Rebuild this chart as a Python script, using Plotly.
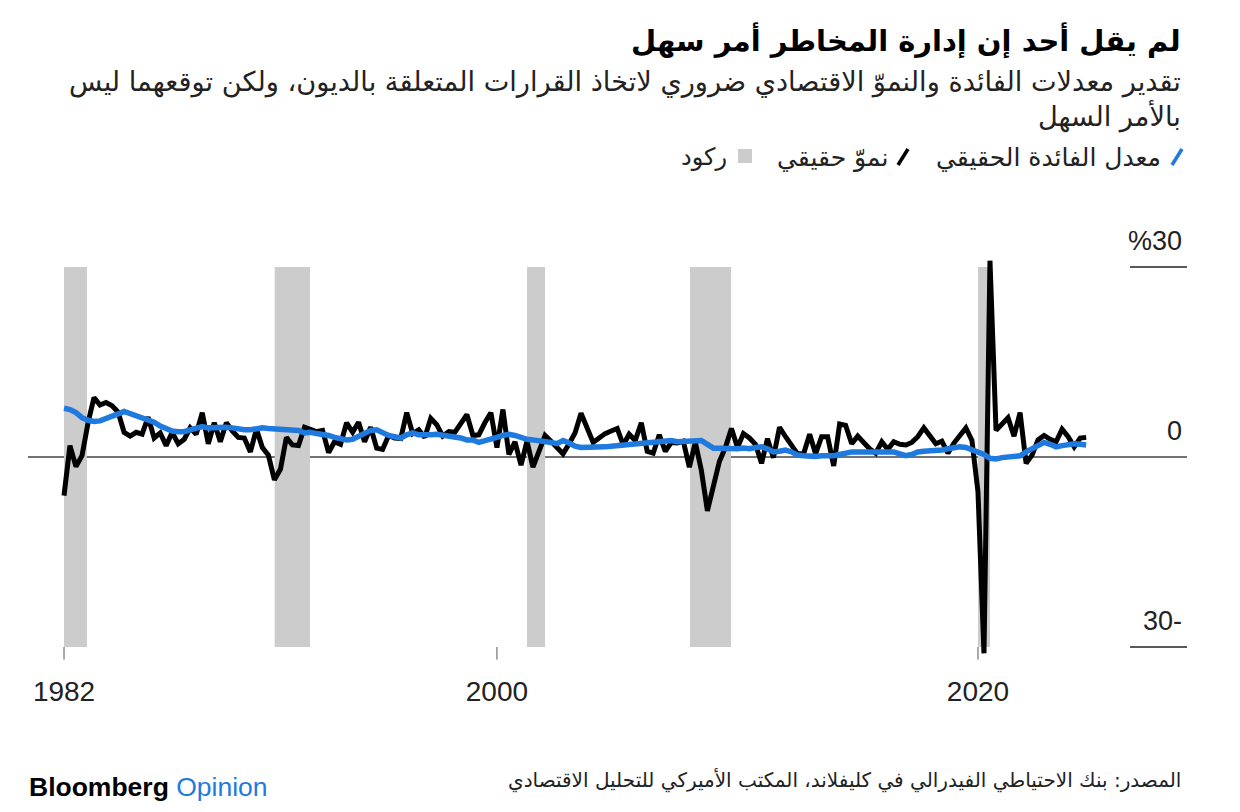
import pandas as pd
import plotly.graph_objects as go

# ===== DATA =====
# quarterly real GDP growth, annualised %, 1982Q1 - 2024Q3
real_growth = [
    -6.1, 1.8, -1.5, 0.2,
    5.4, 9.4, 8.2, 8.6,
    8.1, 7.1, 3.9, 3.3,
    3.9, 3.6, 6.3, 3.0,
    3.8, 1.8, 3.9, 2.1,
    2.8, 4.6, 3.6, 7.0,
    2.1, 5.4, 2.4, 5.4,
    4.1, 3.1, 3.0, 0.8,
    4.4, 1.5, 0.3, -3.6,
    -1.9, 3.1, 1.9, 1.8,
    4.7, 4.4, 4.0, 4.2,
    0.7, 2.4, 2.0, 5.4,
    3.9, 5.5, 2.4, 4.7,
    1.4, 1.2, 3.4, 3.0,
    2.9, 7.0, 3.7, 4.3,
    3.1, 6.1, 5.1, 3.3,
    4.0, 3.9, 5.3, 6.7,
    3.4, 3.5, 5.4, 7.0,
    1.5, 7.5, 0.4, 2.4,
    -1.3, 2.5, -1.6, 1.1,
    3.4, 2.5, 1.6, 0.5,
    2.1, 3.8, 6.9, 4.8,
    2.3, 3.0, 3.7, 4.1,
    4.5, 1.9, 3.6, 2.6,
    5.4, 0.9, 0.6, 3.5,
    0.9, 2.3, 2.2, 2.5,
    -1.6, 2.3, -2.1, -8.5,
    -4.6, -0.7, 1.5, 4.5,
    1.5, 3.7, 3.0, 2.0,
    -1.0, 2.9, -0.1, 4.7,
    3.2, 1.7, 0.5, 0.5,
    3.6, 0.5, 3.2, 3.2,
    -1.4, 5.2, 5.0, 2.1,
    3.3, 2.3, 1.3, 0.6,
    2.4, 1.2, 2.4, 2.0,
    1.9, 2.3, 3.2, 4.6,
    3.3, 2.1, 2.5, 0.6,
    2.2, 3.4, 4.6, 2.6,
    -5.5, -31.0, 31.0, 4.2,
    5.2, 6.2, 3.3, 7.0,
    -1.0, 0.3, 2.7, 3.4,
    2.8, 2.4, 4.4, 3.2,
    1.6, 3.0, 3.1,
]

# real interest rate %, same quarters
real_rate = [
    7.7, 7.5, 7.0, 6.2,
    5.8, 5.6, 5.7, 6.0,
    6.3, 6.8, 7.2, 6.9,
    6.5, 6.2, 5.9, 5.5,
    4.9, 4.4, 4.1, 4.0,
    4.0, 4.3, 4.6, 4.8,
    4.6, 4.7, 4.8, 4.7,
    4.6, 4.4, 4.3, 4.3,
    4.5, 4.6, 4.5, 4.4,
    4.4, 4.3, 4.3, 4.2,
    3.8, 3.9, 3.7, 3.6,
    3.4, 3.1, 2.8, 2.7,
    2.8, 3.2, 3.7, 4.2,
    4.3, 3.8, 3.4, 3.2,
    3.0, 3.5, 3.8, 3.5,
    3.4, 3.5, 3.6, 3.5,
    3.3, 3.1, 3.0, 2.7,
    2.7, 2.3, 2.5, 2.9,
    3.1, 3.4, 3.6, 3.4,
    3.0, 2.8, 2.7, 2.6,
    2.6, 2.3, 2.1, 2.6,
    2.2, 1.7, 1.5, 1.5,
    1.4, 1.5, 1.6, 1.7,
    1.8, 1.9, 2.0, 2.0,
    2.1, 2.2, 2.3, 2.4,
    2.7, 2.6, 2.4, 2.4,
    2.4, 2.5, 2.6, 2.0,
    1.4, 1.4, 1.3, 1.3,
    1.3, 1.4, 1.3, 1.5,
    1.6, 1.3, 0.8, 0.9,
    1.1, 0.8, 0.3, 0.2,
    0.1, 0.1, 0.2, 0.1,
    0.2, 0.4, 0.7, 0.8,
    0.8, 0.8, 0.8, 0.8,
    0.8, 0.8, 0.8, 0.5,
    0.2, 0.4, 0.8, 0.9,
    0.9, 1.0, 1.1, 1.3,
    1.5, 1.6, 1.5, 1.2,
    0.7, 0.4, -0.2, -0.3,
    -0.1, 0.0, 0.1, 0.2,
    0.8, 1.3, 1.8, 2.3,
    2.0, 1.6, 1.8, 2.0,
    2.1, 2.0, 1.9,
]

rec_start = ["1982-01-01", "1990-10-05", "2001-04-01", "2008-01-10", "2020-01-01"]
rec_end = ["1982-12-15", "1992-03-25", "2002-01-01", "2009-09-25", "2020-07-01"]

x_ticks = ["1982-01-01", "2000-01-01", "2020-01-01"]
x_ticklabels = ["1982", "2000", "2020"]
y_ticks = [30, 0, -30]
y_ticklabels = ["%30", "0", "30-"]

title = "لم يقل أحد إن إدارة المخاطر أمر سهل"
subtitle_1 = "تقدير معدلات الفائدة والنموّ الاقتصادي ضروري لاتخاذ القرارات المتعلقة بالديون، ولكن توقعهما ليس"
subtitle_2 = "بالأمر السهل"
legend_names = ["معدل الفائدة الحقيقي", "نموّ حقيقي", "ركود"]
source = "المصدر: بنك الاحتياطي الفيدرالي في كليفلاند، المكتب الأميركي للتحليل الاقتصادي"

BLUE = "#1f7ae0"
GREY = "#cccccc"
AR_FONT = "DejaVu Sans"
LAT_FONT = "Liberation Sans"
OFF = 8  # page body margin
W, H = 1240 - OFF, 812 - OFF
L, R, T, B = 20, 53, 240, 146

quarters = pd.date_range("1982-01-01", periods=len(real_growth), freq="QS")


# screen pixel -> paper coords
def px2x(px):
    return (px - OFF - L) / (W - L - R)


def py2y(py):
    return (H - B - (py - OFF)) / (H - T - B)


fig = go.Figure()
fig.add_trace(go.Scatter(x=quarters, y=real_growth, mode="lines",
                         line=dict(color="black", width=5), hoverinfo="skip"))
fig.add_trace(go.Scatter(x=quarters, y=real_rate, mode="lines",
                         line=dict(color=BLUE, width=5.5), hoverinfo="skip"))

shapes = []
for s, e in zip(rec_start, rec_end):
    shapes.append(dict(type="rect", xref="x", yref="y", x0=s, x1=e, y0=-30, y1=30,
                       fillcolor=GREY, line=dict(width=0), layer="below"))
shapes.append(dict(type="line", xref="paper", yref="y", x0=0, x1=1, y0=0, y1=0,
                   line=dict(color="#444444", width=1.5), layer="below"))
for v in [30, -30]:
    shapes.append(dict(type="line", xref="paper", yref="y", x0=px2x(1130), x1=1, y0=v, y1=v,
                       line=dict(color="#222222", width=1.5)))
for t in x_ticks:
    shapes.append(dict(type="line", xref="x", yref="y", x0=t, x1=t, y0=-30, y1=-32,
                       line=dict(color="#555555", width=1)))

# legend, drawn right to left
shapes.append(dict(type="line", xref="paper", yref="paper", x0=px2x(1172), x1=px2x(1182),
                   y0=py2y(165), y1=py2y(149), line=dict(color=BLUE, width=3.5)))
shapes.append(dict(type="line", xref="paper", yref="paper", x0=px2x(898), x1=px2x(908),
                   y0=py2y(165), y1=py2y(149), line=dict(color="black", width=3.5)))
shapes.append(dict(type="rect", xref="paper", yref="paper", x0=px2x(738), x1=px2x(752),
                   y0=py2y(163), y1=py2y(149), fillcolor=GREY, line=dict(width=0)))

annotations = [
    dict(text="<b>" + title + "</b>", x=px2x(1183), y=py2y(40), font=dict(size=29, family=AR_FONT, color="black")),
    dict(text=subtitle_1, x=px2x(1183), y=py2y(82), font=dict(size=27.2, family=AR_FONT, color="#222222")),
    dict(text=subtitle_2, x=px2x(1183), y=py2y(116), font=dict(size=27.2, family=AR_FONT, color="#222222")),
    dict(text=legend_names[0], x=px2x(1163), y=py2y(157), font=dict(size=25, family=AR_FONT, color="#222222")),
    dict(text=legend_names[1], x=px2x(890), y=py2y(157), font=dict(size=25, family=AR_FONT, color="#222222")),
    dict(text=legend_names[2], x=px2x(729), y=py2y(157), font=dict(size=24, family=AR_FONT, color="#222222")),
    dict(text=source, x=px2x(1183), y=py2y(780), font=dict(size=20, family=AR_FONT, color="#222222")),
]
for v, lab in zip(y_ticks, y_ticklabels):
    annotations.append(dict(text=lab, x=px2x(1184), xref="paper", yref="y", y=v, yshift=26,
                            font=dict(size=27, family=LAT_FONT, color="#222222")))
for a in annotations:
    a.setdefault("xref", "paper")
    a.setdefault("yref", "paper")
    a.update(xanchor="right", yanchor="middle", showarrow=False)

annotations.append(dict(text="<b>Bloomberg</b> <span style='color:%s'>Opinion</span>" % BLUE,
                        x=px2x(27), y=py2y(787), xref="paper", yref="paper", xanchor="left",
                        yanchor="middle", showarrow=False,
                        font=dict(size=26.5, family=LAT_FONT, color="black")))

fig.update_layout(
    width=W, height=H, margin=dict(l=L, r=R, t=T, b=B),
    paper_bgcolor="white", plot_bgcolor="white",
    showlegend=False, shapes=shapes, annotations=annotations,
    xaxis=dict(type="date", range=["1980-07-03", "2028-09-09"], showgrid=False, zeroline=False,
               showline=False, tickvals=x_ticks, ticktext=x_ticklabels, ticks="",
               ticklabelstandoff=6, tickfont=dict(size=28, family=LAT_FONT, color="#222222")),
    yaxis=dict(range=[-33, 33], showgrid=False, zeroline=False, showline=False,
               showticklabels=False, ticks=""),
)

fig.write_html("out.html")
